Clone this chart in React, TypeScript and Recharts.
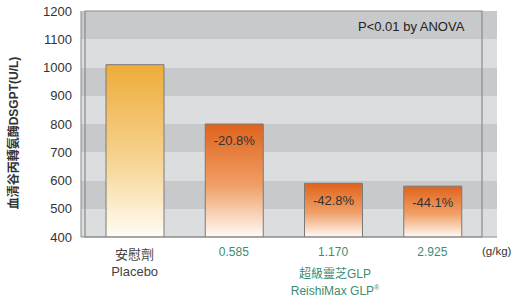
import React from "react";
import { BarChart, Bar, XAxis, YAxis, CartesianGrid, ReferenceArea, LabelList, Cell, Label } from "recharts";

const doses = ["Placebo", "0.585", "1.170", "2.925"];
const sgpt = [1010, 800, 590, 580];
const changes = ["", "-20.8%", "-42.8%", "-44.1%"];
const yTicks = [400, 500, 600, 700, 800, 900, 1000, 1100, 1200];

const FONT = '"Liberation Sans", Arial, "Noto Sans CJK TC", sans-serif';
const TEAL = "#3b8d72";

const data = doses.map((d, i) => ({ dose: d, value: sgpt[i], change: changes[i] }));

function DoseTick({ x, y, payload }: any) {
  if (payload.value === "Placebo") {
    return (
      <g>
        <text x={x} y={y + 14} textAnchor="middle" fontSize={13} fill="#444" fontFamily={FONT}>安慰劑</text>
        <text x={x} y={y + 31} textAnchor="middle" fontSize={13} fill="#444" fontFamily={FONT}>Placebo</text>
      </g>
    );
  }
  return (
    <text x={x} y={y + 11} textAnchor="middle" fontSize={12} fill={TEAL} fontFamily={FONT}>{payload.value}</text>
  );
}

export default function App() {
  return (
    <div style={{ position: "relative", width: 513, height: 297, background: "#fff", fontFamily: FONT }}>
      <style>{"body{margin:0}"}</style>
      <BarChart width={513} height={297} data={data} margin={{ top: 11, right: 16, bottom: 0, left: 0 }}>
        <defs>
          <linearGradient id="gPlacebo" x1="0" y1="0" x2="0" y2="1">
            <stop offset="0%" stopColor="#eeac3a" />
            <stop offset="55%" stopColor="#f6d390" />
            <stop offset="100%" stopColor="#fffcf4" />
          </linearGradient>
          <linearGradient id="gGlp" x1="0" y1="0" x2="0" y2="1">
            <stop offset="0%" stopColor="#e0631b" />
            <stop offset="55%" stopColor="#f0a068" />
            <stop offset="100%" stopColor="#fffaf5" />
          </linearGradient>
        </defs>
        <CartesianGrid vertical={false} stroke="none" horizontalFill={["#c8c9cb", "#dcdddf"]} fillOpacity={1} />
        <ReferenceArea y1={400} y2={1200} fill="none" stroke="#8a8a8a" strokeWidth={1.2} ifOverflow="visible" />
        <XAxis dataKey="dose" height={60} padding={{ left: 4, right: 15 }} tickLine={false}
          axisLine={{ stroke: "#8a8a8a" }} tick={<DoseTick />} interval={0} />
        <YAxis width={81} domain={[400, 1200]} ticks={yTicks} allowDataOverflow tickLine={false} tickSize={0}
          tickMargin={9} axisLine={{ stroke: "#8a8a8a" }}
          tick={{ fontSize: 13, fill: "#333", fontFamily: FONT }}>
          <Label content={() => (
            <text x={18} y={133} transform="rotate(-90 18 133)" textAnchor="middle" fontSize={12}
              fontWeight="bold" fill="#333" fontFamily={FONT}>血清谷丙轉氨酶DSGPT(U/L)</text>
          )} />
        </YAxis>
        <Bar dataKey="value" barSize={58} stroke="#7a7a7a" strokeWidth={1} isAnimationActive={false}>
          {data.map((d, i) => (
            <Cell key={d.dose} fill={i === 0 ? "url(#gPlacebo)" : "url(#gGlp)"} />
          ))}
          <LabelList dataKey="change" position="insideTop" offset={12} fontSize={13} fill="#333" fontFamily={FONT} />
        </Bar>
      </BarChart>
      <div style={{ position: "absolute", left: 358, top: 19, fontSize: 13, color: "#222", whiteSpace: "nowrap" }}>
        P&lt;0.01 by ANOVA
      </div>
      <div style={{ position: "absolute", left: 482, top: 245, fontSize: 11.5, color: "#333", whiteSpace: "nowrap" }}>
        (g/kg)
      </div>
      <div style={{ position: "absolute", left: 235, width: 200, top: 266, fontSize: 12, lineHeight: "17px",
        color: TEAL, textAlign: "center", whiteSpace: "nowrap" }}>
        <div style={{ height: 17 }}>超級靈芝GLP</div>
        <div style={{ height: 17 }}>ReishiMax GLP<span style={{ fontSize: 7, verticalAlign: "top", lineHeight: "10px" }}>®</span></div>
      </div>
    </div>
  );
}
